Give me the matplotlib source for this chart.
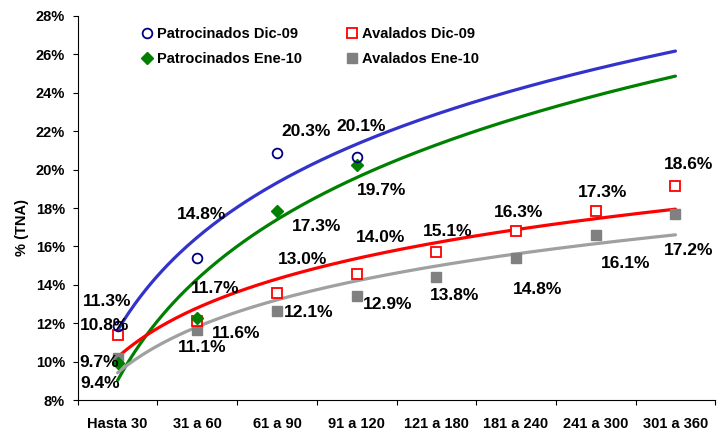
import numpy
from matplotlib import pyplot
from matplotlib.lines import Line2D
from matplotlib.ticker import FixedLocator, FuncFormatter

CATEGORIES = ['Hasta 30', '31 a 60', '61 a 90', '91 a 120', '121 a 180', '181 a 240', '241 a 300', '301 a 360']

# plotted positions (% TNA)
PATROCINADOS_DIC = [11.85, 15.38, 20.85, 20.65]
PATROCINADOS_ENE = [9.95, 12.25, 17.85, 20.25]
AVALADOS_DIC = [11.39, 12.13, 13.56, 14.55, 15.69, 16.82, 17.86, 19.15]
AVALADOS_ENE = [10.19, 11.65, 12.64, 13.43, 14.39, 15.38, 16.59, 17.71]

# data labels as printed on the chart
LABELS_PATROCINADOS_DIC = ['11.3%', '14.8%', '20.3%', '20.1%']
LABELS_PATROCINADOS_ENE = ['9.4%', '11.7%', '17.3%', '19.7%']
LABELS_AVALADOS_DIC = ['10.8%', '11.6%', '13.0%', '14.0%', '15.1%', '16.3%', '17.3%', '18.6%']
LABELS_AVALADOS_ENE = ['9.7%', '11.1%', '12.1%', '12.9%', '13.8%', '14.8%', '16.1%', '17.2%']

# label offsets in pixels (dx, dy)
OFFSETS_PATROCINADOS_DIC = [(-10, 25), (4, 44), (29, 22), (4, 31)]
OFFSETS_PATROCINADOS_ENE = [(-17, -21), (18, 30), (40, -16), (25, -26)]
OFFSETS_AVALADOS_DIC = [(-13, 9), (39, -13), (26, 34), (24, 37), (11, 21), (3, 18), (7, 18), (13, 21)]
OFFSETS_AVALADOS_ENE = [(-18, -5), (5, -18), (32, -2), (31, -9), (18, -18), (22, -31), (30, -28), (13, -37)]

FONT = 'Liberation Sans'
LABEL_SIZE = 12.5
TICK_SIZE = 10.5


def log_trend(ax, values, color):
    x = numpy.arange(1, len(values) + 1)
    slope, intercept = numpy.polyfit(numpy.log(x), values, 1)
    xs = numpy.linspace(1, len(CATEGORIES), 200)
    ax.plot(xs, intercept + slope * numpy.log(xs), color=color, linewidth=2.3, zorder=2, solid_capstyle='round')


def point_labels(ax, values, labels, offsets):
    for i, (value, text, offset) in enumerate(zip(values, labels, offsets)):
        ax.annotate(text, (i + 1, value), xytext=offset, textcoords='offset pixels',
                    ha='center', va='center', fontsize=LABEL_SIZE, fontweight='bold',
                    family=FONT, color='black', zorder=5)


fig = pyplot.figure(figsize=(7.25, 4.33), dpi=100)
ax = fig.add_axes([77.7 / 725, 1 - 400 / 433, 637.6 / 725, 384 / 433])

log_trend(ax, PATROCINADOS_DIC, '#3333CC')
log_trend(ax, PATROCINADOS_ENE, '#008000')
log_trend(ax, AVALADOS_DIC, '#FF0000')
log_trend(ax, AVALADOS_ENE, '#A0A0A0')

x4 = numpy.arange(1, len(PATROCINADOS_DIC) + 1)
x8 = numpy.arange(1, len(AVALADOS_DIC) + 1)
ax.plot(x8, AVALADOS_ENE, linestyle='none', marker='s', markersize=7, color='#808080', zorder=3)
ax.plot(x8, AVALADOS_DIC, linestyle='none', marker='s', markersize=6.5, markerfacecolor='white',
        markeredgecolor='#FF0000', markeredgewidth=1.3, zorder=3)
ax.plot(x4, PATROCINADOS_ENE, linestyle='none', marker='D', markersize=6.5, color='#008000', zorder=3)
ax.plot(x4, PATROCINADOS_DIC, linestyle='none', marker='o', markersize=7, markerfacecolor='none',
        markeredgecolor='#000080', markeredgewidth=1.3, zorder=3)

point_labels(ax, PATROCINADOS_DIC, LABELS_PATROCINADOS_DIC, OFFSETS_PATROCINADOS_DIC)
point_labels(ax, PATROCINADOS_ENE, LABELS_PATROCINADOS_ENE, OFFSETS_PATROCINADOS_ENE)
point_labels(ax, AVALADOS_DIC, LABELS_AVALADOS_DIC, OFFSETS_AVALADOS_DIC)
point_labels(ax, AVALADOS_ENE, LABELS_AVALADOS_ENE, OFFSETS_AVALADOS_ENE)

# Axes
ax.set_xlim(0.5, len(CATEGORIES) + 0.5)
ax.set_ylim(8, 28)
ax.spines['top'].set_visible(False)
ax.spines['right'].set_visible(False)
ax.spines['left'].set_linewidth(0.8)
ax.spines['bottom'].set_linewidth(0.8)

ax.xaxis.set_major_locator(FixedLocator(numpy.arange(0.5, len(CATEGORIES) + 1, 1)))
ax.xaxis.set_major_formatter(FuncFormatter(lambda v, p: ''))
ax.xaxis.set_minor_locator(FixedLocator(numpy.arange(1, len(CATEGORIES) + 1)))
ax.xaxis.set_minor_formatter(FuncFormatter(lambda v, p: CATEGORIES[int(round(v)) - 1]))
ax.tick_params(axis='x', which='major', direction='out', length=3.5, width=0.8)
ax.tick_params(axis='x', which='minor', length=0, pad=12)

ax.yaxis.set_major_locator(FixedLocator(numpy.arange(8, 29, 2)))
ax.yaxis.set_major_formatter(FuncFormatter(lambda v, p: f'{v:.0f}%'))
ax.tick_params(axis='y', direction='out', length=3.6, width=0.8, pad=5.5)

for tick in ax.get_xticklabels(minor=True) + ax.get_yticklabels():
    tick.set_fontsize(TICK_SIZE)
    tick.set_fontweight('bold')
    tick.set_family(FONT)

ax.set_ylabel('% (TNA)', fontsize=TICK_SIZE, fontweight='bold', family=FONT)
ax.yaxis.set_label_coords(-0.0764, 0.45)

# Legend
handles = [
    Line2D([], [], linestyle='none', marker='o', markersize=7, markerfacecolor='none',
           markeredgecolor='#000080', markeredgewidth=1.3),
    Line2D([], [], linestyle='none', marker='D', markersize=6.5, color='#008000'),
    Line2D([], [], linestyle='none', marker='s', markersize=6.5, markerfacecolor='white',
           markeredgecolor='#FF0000', markeredgewidth=1.3),
    Line2D([], [], linestyle='none', marker='s', markersize=7, color='#808080'),
]
names = ['Patrocinados Dic-09', 'Patrocinados Ene-10', 'Avalados Dic-09', 'Avalados Ene-10']
fig.legend(handles, names, ncol=2, loc='upper left', bbox_to_anchor=(141 / 725, 1 - 27 / 433),
           frameon=False, borderpad=0, borderaxespad=0, handlelength=0.8, handletextpad=0.3,
           columnspacing=3.0, labelspacing=0.75,
           prop={'family': FONT, 'weight': 'bold', 'size': TICK_SIZE})

pyplot.savefig('out.png', dpi=100)
